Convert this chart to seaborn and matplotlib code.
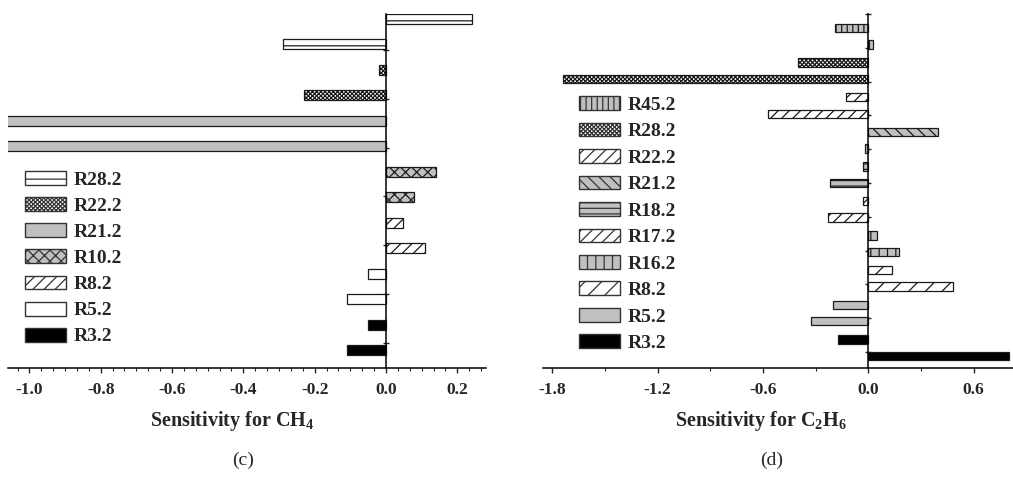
import numpy as np
import pandas as pd
import matplotlib
matplotlib.use("Agg")
import matplotlib.pyplot as plt
from matplotlib.patches import Patch
from matplotlib.ticker import MultipleLocator, FuncFormatter
import seaborn as sns

# Panel (c) : sensitivity for CH4 (two bars per reaction)
reactions_c = ['R28.2', 'R22.2', 'R21.2', 'R10.2', 'R8.2', 'R5.2', 'R3.2']
upper_c = [0.24, -0.02, -1.10, 0.14, 0.048, -0.05, -0.05]
lower_c = [-0.29, -0.23, -1.10, 0.079, 0.109, -0.11, -0.11]

# Panel (d) : sensitivity for C2H6
reactions_d = ['R45.2', 'R28.2', 'R22.2', 'R21.2', 'R18.2', 'R17.2', 'R16.2', 'R8.2', 'R5.2', 'R3.2']
upper_d = [-0.19, -0.40, -0.127, 0.395, -0.028, -0.03, 0.048, 0.133, -0.20, -0.17]
lower_d = [0.025, -1.74, -0.57, -0.02, -0.22, -0.23, 0.175, 0.485, -0.326, 0.80]

GRAY = '#c0c0c0'
# fill colour + hatch for each reaction
styles_c = {
    'R28.2': ('white', '--'),
    'R22.2': ('white', 'xxxxxxxx'),
    'R21.2': (GRAY, ''),
    'R10.2': (GRAY, 'xxx'),
    'R8.2': ('white', '///'),
    'R5.2': ('white', ''),
    'R3.2': ('black', ''),
}
styles_d = {
    'R45.2': (GRAY, '|||'),
    'R28.2': ('white', 'xxxxxxxx'),
    'R22.2': ('white', '///'),
    'R21.2': (GRAY, '\\\\\\'),
    'R18.2': (GRAY, '---'),
    'R17.2': ('white', '///'),
    'R16.2': (GRAY, '||'),
    'R8.2': ('white', '//'),
    'R5.2': (GRAY, ''),
    'R3.2': ('black', ''),
}

sns.set_style('ticks')
plt.rcParams['font.family'] = ['Liberation Serif', 'DejaVu Serif']
plt.rcParams['font.weight'] = 'bold'
plt.rcParams['axes.unicode_minus'] = False
plt.rcParams['hatch.linewidth'] = 0.9
plt.rcParams['mathtext.fontset'] = 'custom'
plt.rcParams['mathtext.rm'] = 'Liberation Serif:bold'
plt.rcParams['mathtext.bf'] = 'Liberation Serif:bold'
plt.rcParams['mathtext.it'] = 'Liberation Serif:bold'

EDGE = '#1a1a1a'


def draw_panel(ax, reactions, upper, lower, styles, width, gap):
    n = len(reactions)
    df = pd.DataFrame({
        'reaction': reactions * 2,
        'case': ['a'] * n + ['b'] * n,
        'value': upper + lower,
    })
    sns.barplot(data=df, y='reaction', x='value', hue='case', orient='h',
                width=width, gap=gap, errorbar=None, legend=False,
                palette=['white', 'white'], saturation=1, ax=ax)
    for cont in ax.containers:
        for bar, r in zip(cont, reactions):
            fc, h = styles[r]
            bar.set_facecolor(fc)
            bar.set_edgecolor(EDGE)
            bar.set_linewidth(0.9)
            bar.set_hatch(h)
    # y axis drawn through zero, no labels
    sns.despine(ax=ax)
    ax.spines['left'].set_position(('data', 0))
    for s in ['left', 'bottom']:
        ax.spines[s].set_linewidth(1.1)
        ax.spines[s].set_color('black')
    ax.set_ylabel('')
    ax.tick_params(axis='y', direction='inout', length=5, width=1, labelleft=False)
    ax.tick_params(axis='x', which='major', direction='out', length=3.5, width=1,
                   labelsize=12.5, pad=6.5)
    ax.tick_params(axis='x', which='minor', direction='out', length=2, width=0.8)
    ax.xaxis.set_major_formatter(FuncFormatter(lambda v, p: f"{round(v, 1) + 0.0:.1f}"))
    handles = [Patch(facecolor=styles[r][0], edgecolor='#333333', hatch=styles[r][1],
                     linewidth=1.0, label=r) for r in reactions]
    return handles


fig = plt.figure(figsize=(10.13, 4.82), dpi=100)
ax_c = fig.add_axes([0.0079, 0.2365, 0.4719, 0.7344])
ax_d = fig.add_axes([0.536, 0.2365, 0.464, 0.7344])

h_c = draw_panel(ax_c, reactions_c, upper_c, lower_c, styles_c, 0.98, 0.58)
ax_c.set_xlim(-1.06, 0.2805)
ax_c.set_ylim(6.6, -0.343)
ax_c.set_yticks(np.linspace(0.36, 6.11, 7))
ax_c.xaxis.set_major_locator(MultipleLocator(0.2))
ax_c.xaxis.set_minor_locator(MultipleLocator(0.2 / 6))
ax_c.set_xlabel('Sensitivity for CH$_4$', fontsize=14.5, fontweight='bold')
ax_c.xaxis.set_label_coords(0.469, -0.115)
ax_c.legend(handles=h_c, loc='upper left', bbox_to_anchor=(0.0356, 0.556),
            frameon=False, prop={'weight': 'bold', 'size': 14},
            handlelength=2.1, handleheight=0.72, handletextpad=0.4,
            labelspacing=0.43, borderpad=0, borderaxespad=0)

h_d = draw_panel(ax_d, reactions_d, upper_d, lower_d, styles_d, 0.956, 0.49)
ax_d.set_xlim(-1.853, 0.824)
ax_d.set_ylim(9.59, -0.643)
ax_d.set_yticks(np.linspace(-0.643, 9.13, 11))
ax_d.xaxis.set_major_locator(MultipleLocator(0.6))
ax_d.xaxis.set_minor_locator(MultipleLocator(0.3))
ax_d.set_xlabel('Sensitivity for C$_2$H$_6$', fontsize=14.5, fontweight='bold')
ax_d.xaxis.set_label_coords(0.464, -0.115)
ax_d.legend(handles=h_d, loc='upper left', bbox_to_anchor=(0.0766, 0.768),
            frameon=False, prop={'weight': 'bold', 'size': 14},
            handlelength=2.1, handleheight=0.72, handletextpad=0.4,
            labelspacing=0.45, borderpad=0, borderaxespad=0)

fig.text(0.24, 0.045, '(c)', ha='center', va='center', fontsize=14, fontweight='normal')
fig.text(0.762, 0.045, '(d)', ha='center', va='center', fontsize=14, fontweight='normal')

fig.savefig('out.png', dpi=100, facecolor='white')
